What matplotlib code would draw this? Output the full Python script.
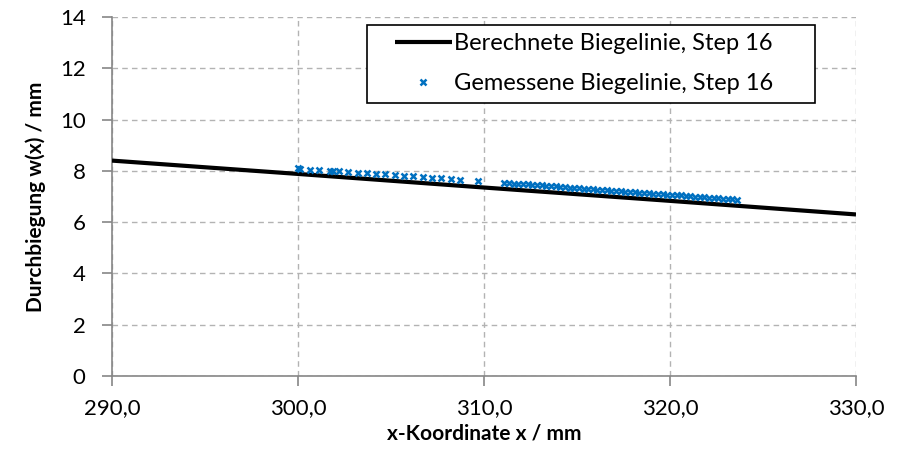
import matplotlib
matplotlib.use("Agg")
import matplotlib.pyplot as plt
from matplotlib.patches import Rectangle

plt.rcParams['font.family'] = ['Lato', 'DejaVu Sans']

# berechnete Biegelinie (Gerade)
calc_x = [290.0, 300.0, 310.0, 320.0, 330.0]
calc_w = [8.40, 7.88, 7.35, 6.83, 6.30]

# gemessene Biegelinie, Step 16
meas_x = [300.00, 300.10, 300.65, 301.15, 301.70, 301.90, 302.20, 302.70, 303.20, 303.70,
          304.20, 304.70, 305.20, 305.70, 306.20, 306.70, 307.20, 307.70, 308.20, 308.70,
          309.70,
          311.10, 311.35, 311.60, 311.85, 312.10, 312.35, 312.60, 312.85, 313.10, 313.35,
          313.60, 313.85, 314.10, 314.35, 314.60, 314.85, 315.10, 315.35, 315.60, 315.85,
          316.10, 316.35, 316.60, 316.85, 317.10, 317.35, 317.60, 317.85, 318.10, 318.35,
          318.60, 318.85, 319.10, 319.35, 319.60, 319.85, 320.10, 320.35, 320.60, 320.85,
          321.10, 321.35, 321.60, 321.85, 322.10, 322.35, 322.60, 322.85, 323.10, 323.35,
          323.60]
meas_w = [8.10, 8.08, 8.05, 8.03, 8.01, 8.00, 7.98, 7.95, 7.93, 7.91,
          7.88, 7.86, 7.83, 7.80, 7.78, 7.76, 7.73, 7.71, 7.68, 7.66,
          7.62,
          7.53, 7.52, 7.50, 7.49, 7.48, 7.47, 7.45, 7.44, 7.43, 7.41,
          7.40, 7.39, 7.37, 7.36, 7.35, 7.33, 7.32, 7.31, 7.30, 7.28,
          7.27, 7.26, 7.24, 7.23, 7.22, 7.20, 7.19, 7.18, 7.17, 7.15,
          7.14, 7.13, 7.11, 7.10, 7.09, 7.07, 7.06, 7.05, 7.04, 7.02,
          7.01, 7.00, 6.98, 6.97, 6.96, 6.94, 6.93, 6.92, 6.91, 6.89,
          6.88]

x_ticks = [290, 300, 310, 320, 330]
x_tick_labels = ["290,0", "300,0", "310,0", "320,0", "330,0"]
y_ticks = [0, 2, 4, 6, 8, 10, 12, 14]

fig = plt.figure(figsize=(9.02, 4.55), dpi=100)
ax = fig.add_axes([112 / 902, 1 - 376 / 455, 744 / 902, 359 / 455])

ax.plot(calc_x, calc_w, color='black', lw=3, solid_capstyle='butt',
        label='Berechnete Biegelinie, Step 16', zorder=3)
ax.plot(meas_x, meas_w, ls='none', marker='x', ms=5, mew=1.8, color='#0070C0',
        label='Gemessene Biegelinie, Step 16', zorder=4)

ax.set_xlim(290, 330)
ax.set_ylim(0, 14)
ax.set_xticks(x_ticks)
ax.set_xticklabels(x_tick_labels)
ax.set_yticks(y_ticks)

ax.grid(True, color='#b3b3b3', ls=(0, (4, 3)), lw=1)
ax.set_axisbelow(True)
for s in ['top', 'right']:
    ax.spines[s].set_visible(False)
for s in ['left', 'bottom']:
    ax.spines[s].set_color('#868686')
    ax.spines[s].set_linewidth(1.2)
ax.tick_params(axis='both', colors='#868686', length=7, width=1.2, labelsize=16,
               labelcolor='black')
ax.tick_params(axis='x', pad=9)
ax.tick_params(axis='y', pad=12)

ax.set_xlabel('x-Koordinate x / mm', fontsize=15, fontweight='bold', labelpad=4)
ax.set_ylabel('Durchbiegung w(x) / mm', fontsize=15, fontweight='bold', labelpad=10)

# Legendenrahmen separat, damit er breiter als der Inhalt sein kann
box = Rectangle((367 / 902, 1 - 103 / 455), 448 / 902, 78 / 455,
                transform=fig.transFigure, facecolor='white', edgecolor='black',
                lw=1.2, zorder=5)
ax.add_artist(box)

leg = ax.legend(loc='upper left', bbox_to_anchor=(395 / 902, 1 - 33 / 455),
                bbox_transform=fig.transFigure, fontsize=17, frameon=False,
                handlelength=2.4, handletextpad=0.12, borderpad=0,
                labelspacing=0.8, borderaxespad=0)
leg.set_zorder(6)

# abgeschnittener Titel oben
fig.text(0.5 - 31 / 902, 1.015, 'Biegelinie', ha='center', va='baseline', fontsize=20,
         fontweight='bold')

fig.savefig('out.png', dpi=100)
